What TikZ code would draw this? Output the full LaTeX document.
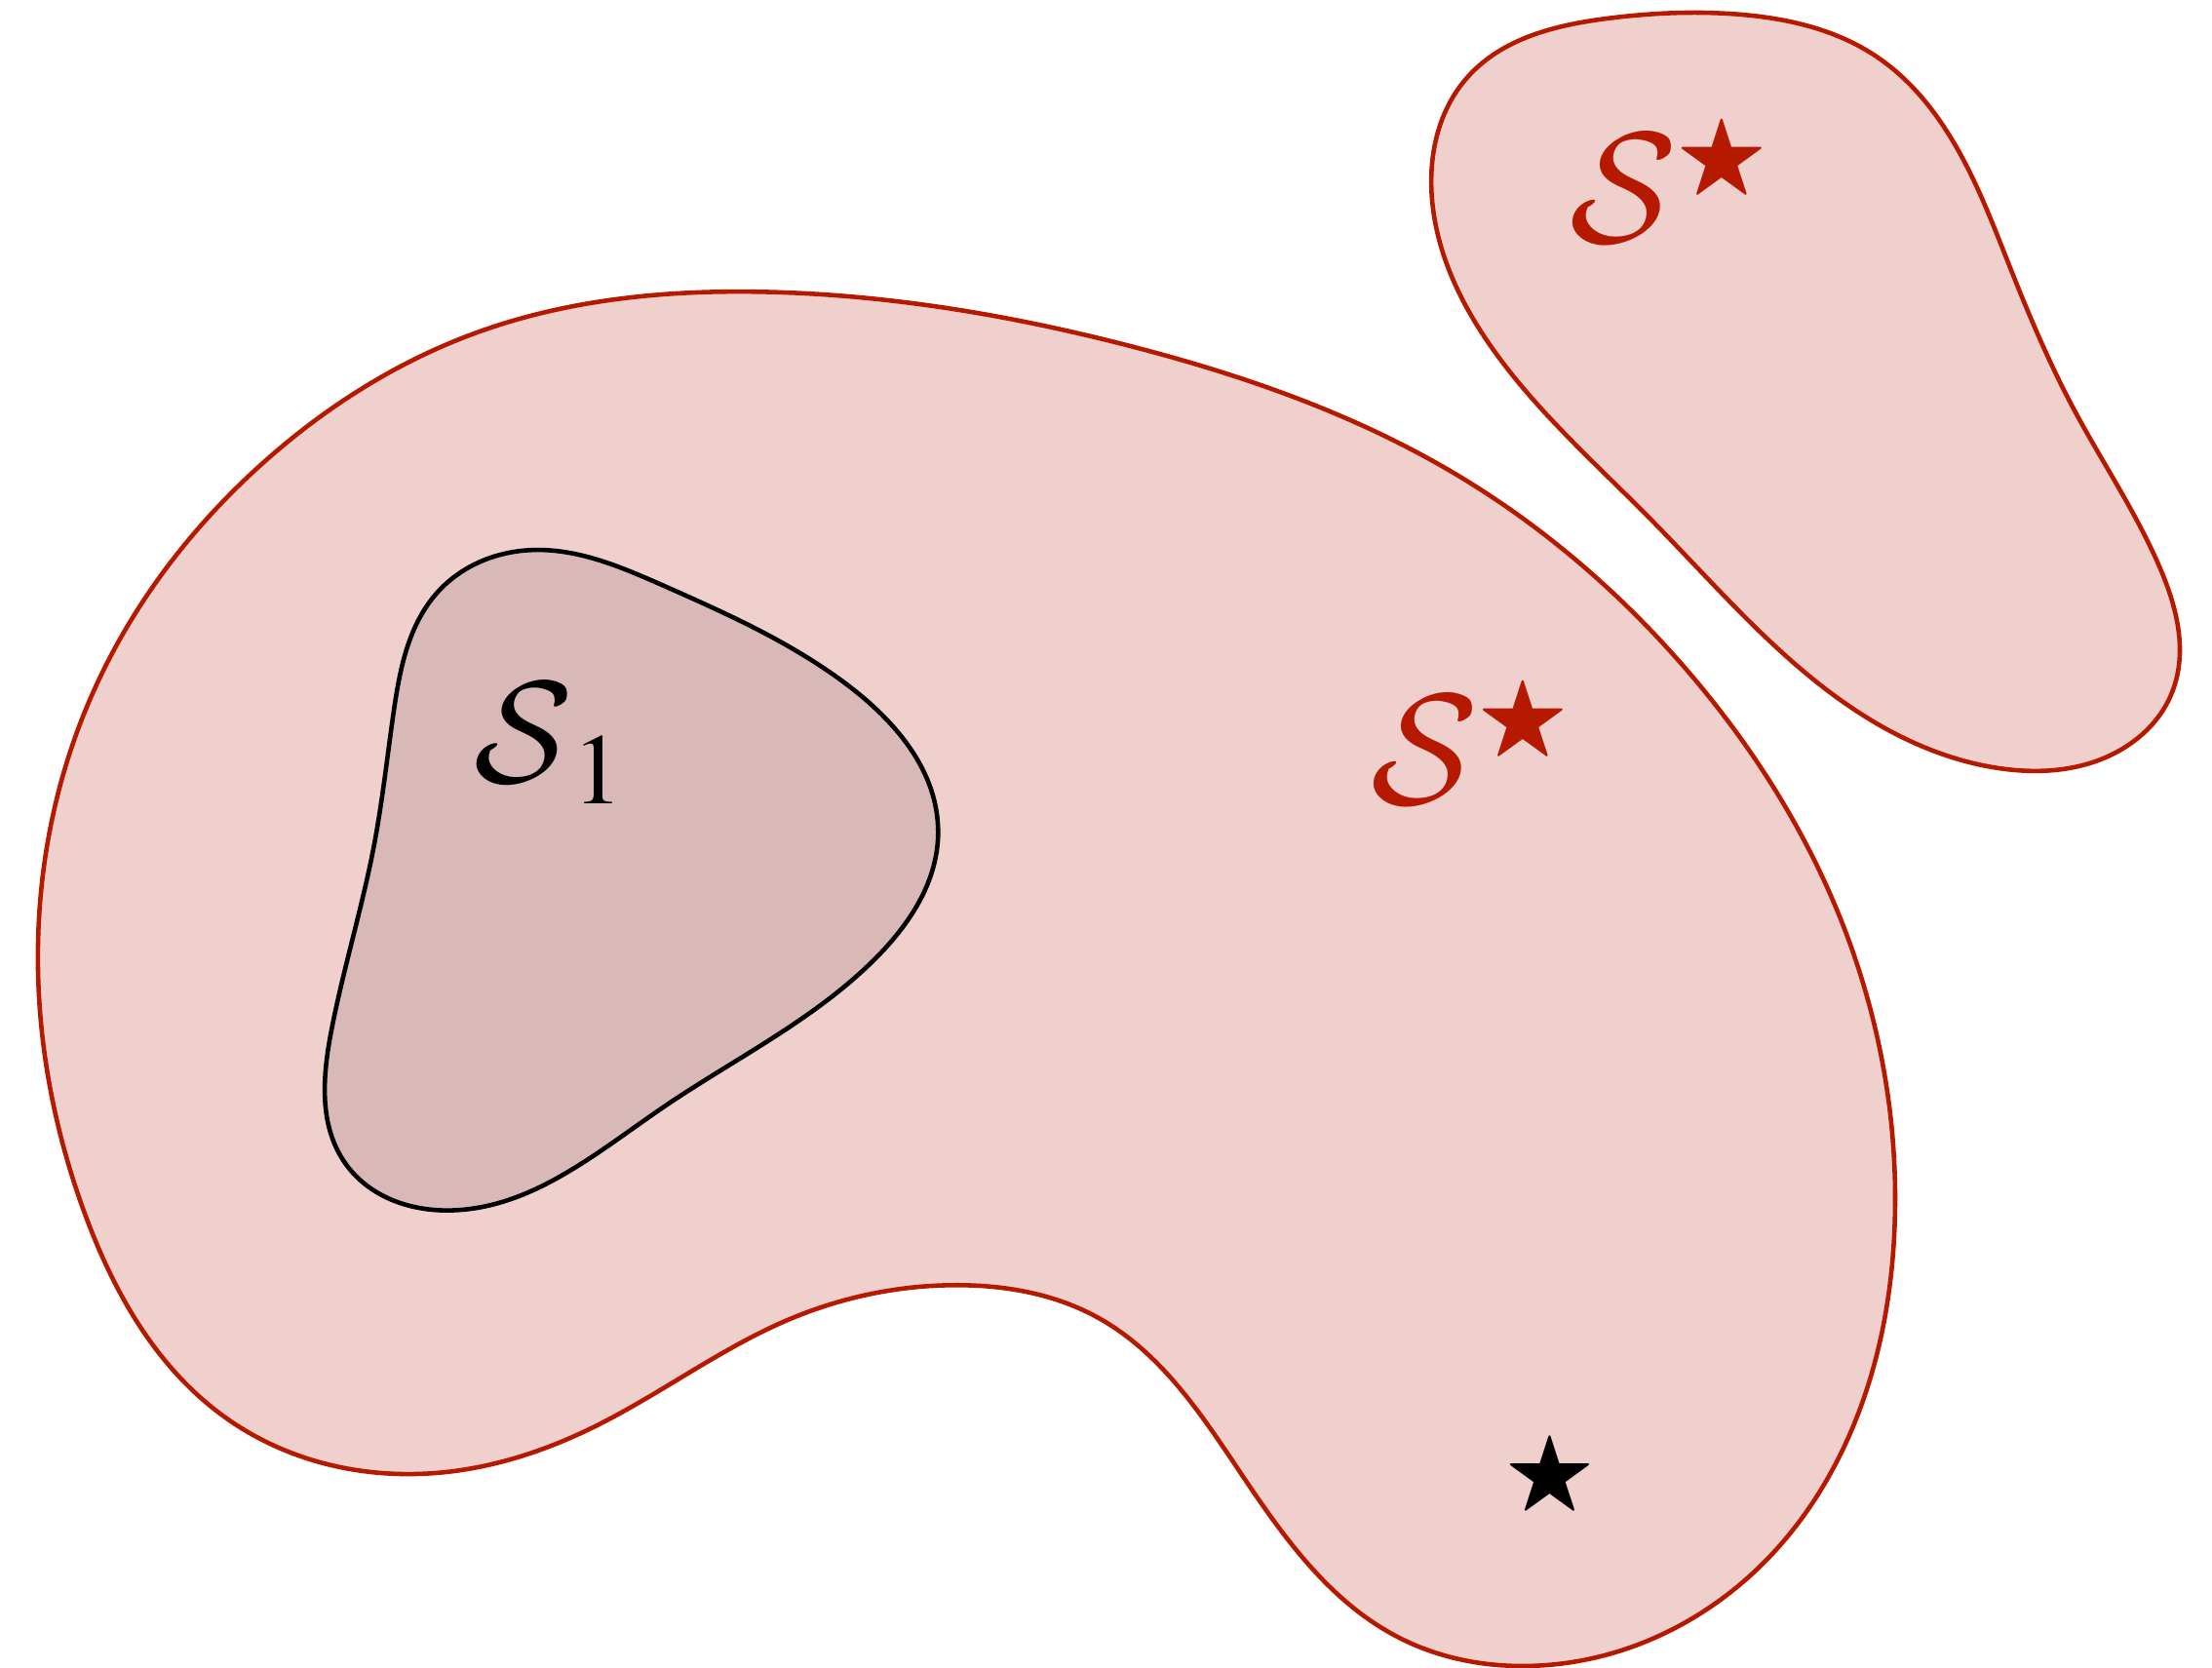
\documentclass[tikz,border=0pt]{standalone}
\usepackage{graphicx}
\usepackage{mathptmx}
\usepackage{amssymb}
\usetikzlibrary{hobby}
\DeclareMathAlphabet{\mathcmcal}{OMS}{cmsy}{m}{n}
\newcommand{\smstar}{\scalebox{0.6}{$\bigstar$}}
\definecolor{lred}{RGB}{181,26,0}
\definecolor{pinkfill}{RGB}{240,208,205}
\definecolor{innerfill}{RGB}{216,185,183}
\begin{document}
\begin{tikzpicture}[x=0.01447cm,y=-0.01447cm,
  redblob/.style={draw=lred,fill=pinkfill,line width=1.3pt},
  innerblob/.style={draw=black,fill=innerfill,line width=1.3pt},
  lbl/.style={inner sep=0pt,font=\Huge,scale=1.85}]
\useasboundingbox (0,0) rectangle (1568,1182);
% big blob
\path[redblob] plot[closed hobby] coordinates {
 (545,207) (800,245) (1030,335) (1200,480) (1300,640)
 (1343,870) (1318,1000) (1250,1108) (1080,1181) (990,1160)
 (880,1045) (780,935) (678,911) (560,935) (420,1012)
 (311,1044) (160,1005) (60,860) (27,690) (62,500)
 (190,325) (340,235)};
% top right blob
\path[redblob] plot[closed hobby] coordinates {
 (1140,13) (1230,10) (1330,40) (1390,110) (1425,190) (1470,290)
 (1530,400) (1540,490) (1490,538) (1420,545) (1310,500)
 (1170,368) (1060,250) (1015,140) (1040,55)};
% inner blob
\path[innerblob] plot[closed hobby] coordinates {
 (375,390) (470,415) (600,485) (665,590) (620,680)
 (470,785) (320,858) (245,825) (235,730) (265,600)
 (279,505) (310,420)};
\node[lbl,scale=0.92] (s1) at (390,527) {$\mathcmcal{S}_{\,1}$};
\node[lbl,text=lred] (sa) at (1043,526) {$\mathcmcal{S}^{\smstar}$};
\node[lbl,text=lred] (sb) at (1184,128) {$\mathcmcal{S}^{\smstar}$};
\node[inner sep=0pt,font=\Huge,scale=1.1] (st) at (1099,1047) {$\bigstar$};
\end{tikzpicture}
\end{document}
